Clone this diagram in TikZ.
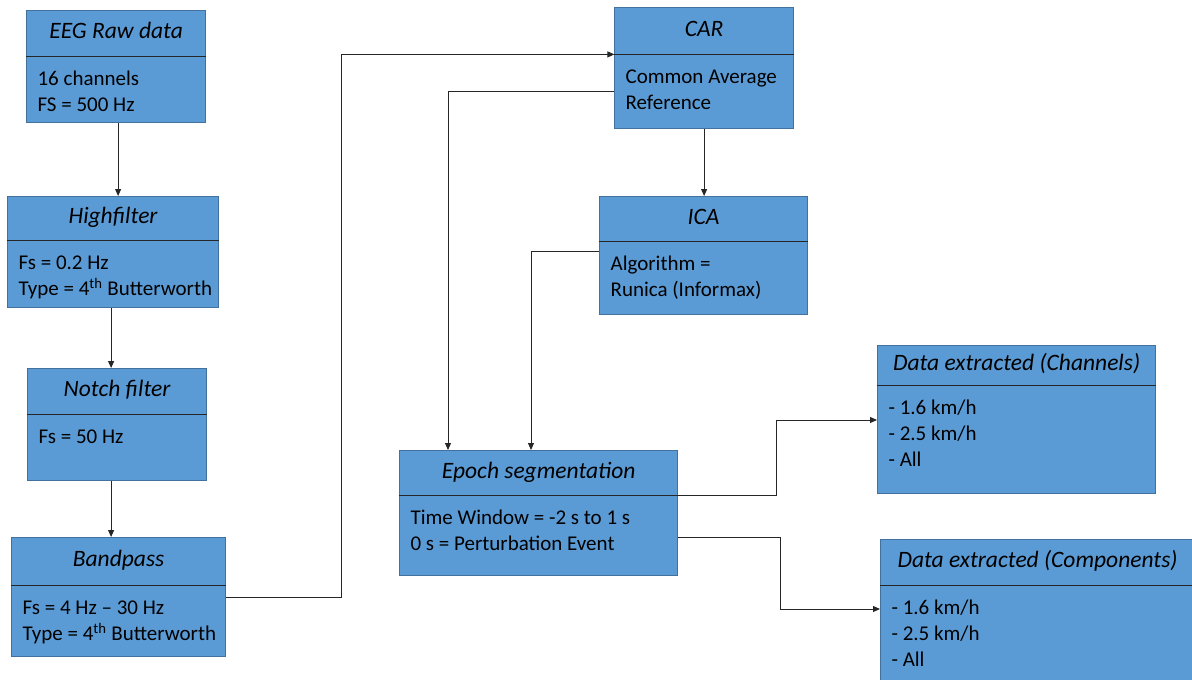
\documentclass[tikz,border=0pt]{standalone}
\usepackage{fontspec}
\setmainfont{Carlito}
\usetikzlibrary{arrows.meta}

\definecolor{boxfill}{RGB}{91,155,213}
\definecolor{boxline}{RGB}{65,113,156}

\tikzset{
  stage/.style={draw=boxline, fill=boxfill, line width=1.2pt, anchor=north west, inner sep=0pt},
  stagetitle/.style={anchor=north, inner sep=0pt, text height=16pt, text depth=5pt,
    font=\fontsize{23.5}{28}\selectfont\itshape},
  stagebody/.style={anchor=north west, align=left, inner xsep=11pt, inner ysep=11pt,
    font=\fontsize{21}{26}\selectfont},
  divider/.style={line width=1.2pt, black!85},
  flow/.style={-{Triangle[length=7pt,width=6pt]}, line width=1pt, black!85},
}

% #1 name, #2 x, #3 y, #4 width, #5 height, #6 title height, #7 title, #8 body
\newcommand\stagebox[8]{%
  \node[stage, minimum width=#4pt, minimum height=#5pt] (#1) at (#2,#3) {};
  \node[stagetitle, minimum width=#4pt, minimum height=#6pt] (#1-t) at (#1.north) {#7};
  \draw[divider] (#1-t.south west) -- (#1-t.south east);
  \node[stagebody] (#1-b) at (#1-t.south west) {\strut#8};
}

\begin{document}
\begin{tikzpicture}[x=1pt, y=-1pt]
\useasboundingbox (0,0) rectangle (1192,680);
%left column
\stagebox{raw}{26}{10}{179}{112}{46}{EEG Raw data}{16 channels\\FS = 500 Hz}
\stagebox{high}{7}{196}{211}{111}{44}{Highfilter}{Fs = 0.2 Hz\\Type = 4\textsuperscript{th} Butterworth}
\stagebox{notch}{27}{368}{179}{112}{46}{Notch filter}{Fs = 50 Hz}
\stagebox{band}{11}{537}{214}{119}{48}{Bandpass}{Fs = 4 Hz -- 30 Hz\\Type = 4\textsuperscript{th} Butterworth}
%middle
\stagebox{car}{614}{7}{179}{121}{47}{CAR}{Common Average\\Reference}
\stagebox{ica}{599}{196}{208}{118}{45}{ICA}{Algorithm =\\Runica (Informax)}
\stagebox{epoch}{399}{450}{278}{125}{45}{Epoch segmentation}{Time Window = -2 s to 1 s\\0 s = Perturbation Event}
%outputs
\stagebox{chan}{877}{345}{278}{148}{40}{Data extracted (Channels)}{- 1.6 km/h\\- 2.5 km/h\\- All}
\stagebox{comp}{880}{539}{314}{150}{46}{Data extracted (Components)}{- 1.6 km/h\\- 2.5 km/h\\- All}

\draw[flow] ([xshift=2pt]raw.south) -- ([xshift=2pt]raw.south |- high.north);
\draw[flow] ([xshift=-2pt]high.south) -- ([xshift=-2pt]high.south |- notch.north);
\draw[flow] ([xshift=-6pt]notch.south) -- ([xshift=-6pt]notch.south |- band.north);
\draw[flow] (band.east) -- ++(115,0) |- (car-t.south west);
\draw[flow] (car.south) -- (car.south |- ica.north);
\draw[flow] (car.west |- 0,91) -| (448,0 |- epoch.north);
\draw[flow] (ica.west |- 0,251) -| (531,0 |- epoch.north);
\draw[flow] (epoch-t.south east) -- ++(99,0) |- (chan.west |- 0,420);
\draw[flow] (epoch.east |- 0,537) -- ++(102,0) |- (comp.west |- 0,609);
\end{tikzpicture}
\end{document}
